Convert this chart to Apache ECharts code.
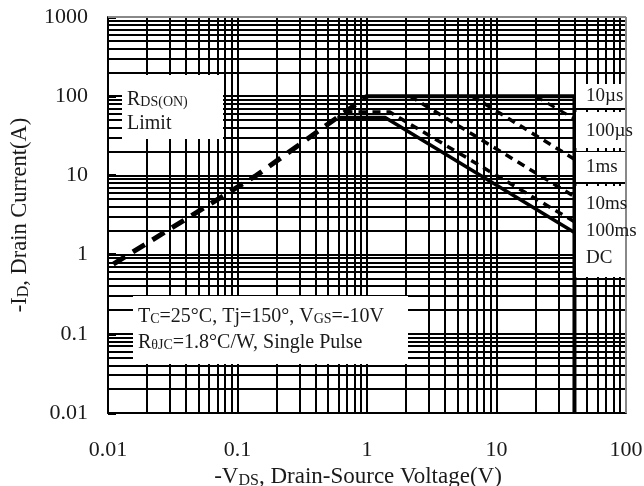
<!DOCTYPE html>
<html><head><meta charset="utf-8">
<script src="https://cdn.jsdelivr.net/npm/echarts@6/dist/echarts.min.js"></script>
<style>html,body{margin:0;padding:0;background:#fff}#c{width:644px;height:486px}</style>
</head><body><div id="c"></div>
<script>
// ---- data ----
const xTickLabels = ['0.01', '0.1', '1', '10', '100'];
const yTickLabels = ['0.01', '0.1', '1', '10', '100', '1000'];
const gridMultipliers = [1, 2, 3, 4, 5, 6, 7, 8, 9];
const xDecades = [0.01, 0.1, 1, 10];
const yDecades = [0.01, 0.1, 1, 10, 100];
const rdsLimit   = [[0.011, 0.76], [0.14, 10], [1, 100]];
const pulse10us  = [[1, 100], [40, 100], [40, 0.01]];
const pulse100us = [[20, 100], [40, 52]];
const pulse1ms   = [[6.5, 100], [40, 16]];
const pulse10ms  = [[2.15, 100], [40, 5.4]];
const pulse100ms = [[0.67, 63], [1.5, 63], [40, 2.6]];
const dcLine     = [[0.59, 54], [1.38, 54], [40, 1.9]];
const curveLabels = ['10µs', '100µs', '1ms', '10ms', '100ms', 'DC'];

// ---- chart ----
const FONT = 'Liberation Serif';
const TXT = '#1a1a1a';
const xGridVals = xDecades.flatMap(d => gridMultipliers.map(m => +(d * m).toPrecision(3)));
const yGridVals = yDecades.flatMap(d => gridMultipliers.map(m => +(d * m).toPrecision(3)));

const gridLines = [];
xGridVals.forEach(v => gridLines.push({xAxis: v, lineStyle: {color: '#000', width: 2, type: 'solid'}}));
yGridVals.forEach(v => gridLines.push({yAxis: v, lineStyle: {color: '#000', width: 2, type: 'solid'}}));
gridLines.push({xAxis: 100, lineStyle: {color: '#888', width: 2, type: 'solid'}});
gridLines.push({yAxis: 1000, lineStyle: {color: '#888', width: 2, type: 'solid'}});

function curve(data, width, dash, z) {
  return {
    type: 'line', data: data, showSymbol: false, symbol: 'none', z: z || 5,
    lineStyle: {color: '#000', width: width, type: dash || 'solid', cap: 'butt'},
    silent: true, animation: false
  };
}

const chart = echarts.init(document.getElementById('c'), null, {renderer: 'canvas'});
const richMain = {fontSize: 20, fontFamily: FONT, fill: TXT, verticalAlign: 'bottom', lineHeight: 22};
const richSmall = {fontSize: 14, fontFamily: FONT, fill: TXT, verticalAlign: 'bottom', lineHeight: 22, padding: [0, 0, 1, 0]};

const labelY = [96, 131, 167, 204, 231, 258];
const labelBoxes = [[84, 24], [112, 36], [152, 30], [186, 91]];

const graphics = [];
labelBoxes.forEach(b => graphics.push({type: 'rect', z: 50, shape: {x: 576, y: b[0], width: 49, height: b[1]}, style: {fill: '#fff'}}));
curveLabels.forEach((t, i) => graphics.push({type: 'text', z: 51, x: 586, y: labelY[i],
  style: {text: t, fontSize: 19, fontFamily: FONT, fill: TXT, verticalAlign: 'middle'}}));
graphics.push({type: 'rect', z: 50, shape: {x: 122, y: 75, width: 101, height: 64}, style: {fill: '#fff'}});
graphics.push({type: 'text', z: 51, x: 127, y: 99, style: {text: '{b|R}{s|DS(ON)}', rich: {b: richMain, s: richSmall}, verticalAlign: 'middle'}});
graphics.push({type: 'text', z: 51, x: 127, y: 123, style: {text: '{b|Limit}', rich: {b: richMain, s: richSmall}, verticalAlign: 'middle'}});
graphics.push({type: 'rect', z: 50, shape: {x: 133, y: 296, width: 275, height: 68}, style: {fill: '#fff'}});
graphics.push({type: 'text', z: 51, x: 138, y: 316, style: {text: '{b|T}{s|C}{b|=25°C, Tj=150°, V}{s|GS}{b|=-10V}', rich: {b: richMain, s: richSmall}, verticalAlign: 'middle'}});
graphics.push({type: 'text', z: 51, x: 138, y: 342, style: {text: '{b|R}{s|θJC}{b|=1.8°C/W, Single Pulse}', rich: {b: richMain, s: richSmall}, verticalAlign: 'middle'}});

chart.setOption({
  animation: false,
  backgroundColor: '#fff',
  grid: {left: 108, right: 18, top: 17, bottom: 73, containLabel: false, outerBoundsMode: 'none'},
  xAxis: {
    type: 'log', logBase: 10, min: 0.01, max: 100,
    axisLine: {lineStyle: {color: '#000', width: 2}},
    axisTick: {show: false},
    splitLine: {show: false},
    axisLabel: {
      margin: 26, fontSize: 22, fontFamily: FONT, color: TXT,
      formatter: v => xTickLabels[Math.round(Math.log10(v)) + 2]
    },
    name: '-V{s|DS}, Drain-Source Voltage(V)',
    nameLocation: 'middle', nameGap: 50,
    nameTextStyle: {fontSize: 23, fontFamily: FONT, color: TXT, padding: [0, 18, 0, 0],
      rich: {s: {fontSize: 16, fontFamily: FONT, color: TXT, verticalAlign: 'bottom'}}}
  },
  yAxis: {
    type: 'log', logBase: 10, min: 0.01, max: 1000,
    axisLine: {lineStyle: {color: '#000', width: 2}},
    axisTick: {show: true, inside: true, length: 8, lineStyle: {color: '#000', width: 3}},
    splitLine: {show: false},
    axisLabel: {
      margin: 20, fontSize: 22, fontFamily: FONT, color: TXT,
      formatter: v => yTickLabels[Math.round(Math.log10(v)) + 2]
    },
    name: '-I{s|D}, Drain Current(A)',
    nameLocation: 'middle', nameGap: 76, nameRotate: 90,
    nameTextStyle: {fontSize: 22.5, fontFamily: FONT, color: TXT,
      rich: {s: {fontSize: 16, fontFamily: FONT, color: TXT, verticalAlign: 'bottom'}}}
  },
  graphic: graphics,
  series: [
    {
      type: 'line', data: [], z: 1, silent: true,
      markLine: {silent: true, symbol: 'none', label: {show: false}, animation: false, data: gridLines}
    },
    curve(rdsLimit, 5, [14, 9]),
    curve(pulse10us, 4),
    curve(pulse100us, 3, [8, 6]),
    curve(pulse1ms, 3.5, [8, 6]),
    curve(pulse10ms, 3.5, [8, 6]),
    curve(pulse100ms, 3.5, [8, 6]),
    curve(dcLine, 3.5)
  ]
});
</script>
</body></html>
